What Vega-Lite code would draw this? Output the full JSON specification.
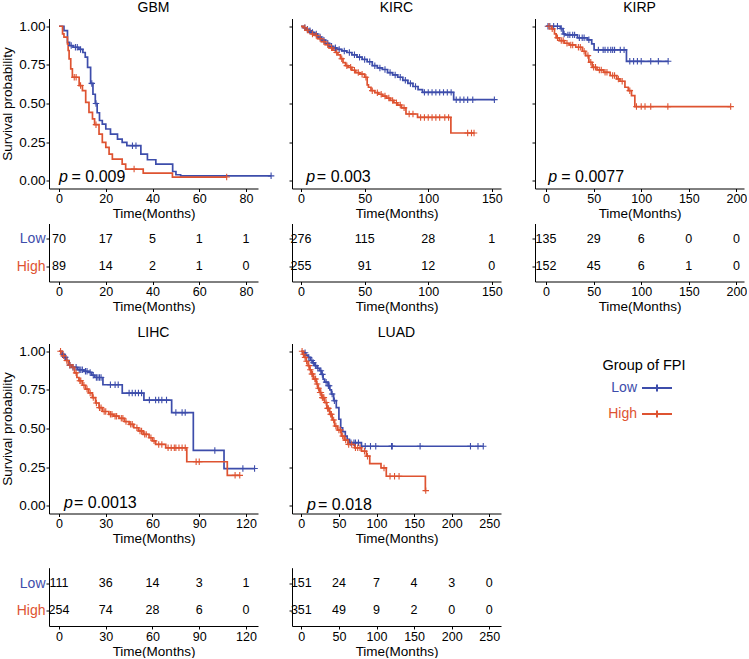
{
"$schema":"https://vega.github.io/schema/vega-lite/v6.json",
"padding":{"left":0,"top":0.5,"right":0,"bottom":0},
"background":"white",
"config":{
 "font":"Liberation Sans",
 "view":{"stroke":null},
 "axis":{"domainColor":"black","tickColor":"black","labelColor":"black","titleColor":"black","labelFontSize":12.5,"titleFontSize":13.5,"titleFontWeight":"normal","grid":false,"tickSize":3,"labelPadding":1,"domainWidth":1,"tickWidth":1},
 "axisX":{"titlePadding":1.5},
 "axisY":{"titlePadding":4,"labelFontSize":13.5},
 "title":{"fontSize":14,"fontWeight":"normal","anchor":"middle","offset":4,"color":"black"},
 "text":{"color":"black"}
},
"datasets":{
"km":[
{"panel":"GBM","group":"Low","time":0,"surv":1,"cens":0},
{"panel":"GBM","group":"Low","time":2.1,"surv":0.972,"cens":0},
{"panel":"GBM","group":"Low","time":3.6,"surv":0.896,"cens":0},
{"panel":"GBM","group":"Low","time":4.5,"surv":0.875,"cens":0},
{"panel":"GBM","group":"Low","time":5.2,"surv":0.875,"cens":1},
{"panel":"GBM","group":"Low","time":6,"surv":0.864,"cens":0},
{"panel":"GBM","group":"Low","time":7,"surv":0.864,"cens":1},
{"panel":"GBM","group":"Low","time":7.8,"surv":0.864,"cens":1},
{"panel":"GBM","group":"Low","time":8.5,"surv":0.85,"cens":0},
{"panel":"GBM","group":"Low","time":9.2,"surv":0.85,"cens":1},
{"panel":"GBM","group":"Low","time":10.2,"surv":0.83,"cens":0},
{"panel":"GBM","group":"Low","time":11.2,"surv":0.8,"cens":0},
{"panel":"GBM","group":"Low","time":12.2,"surv":0.734,"cens":0},
{"panel":"GBM","group":"Low","time":13.5,"surv":0.63,"cens":0},
{"panel":"GBM","group":"Low","time":14,"surv":0.63,"cens":1},
{"panel":"GBM","group":"Low","time":14.5,"surv":0.56,"cens":0},
{"panel":"GBM","group":"Low","time":15.5,"surv":0.5,"cens":0},
{"panel":"GBM","group":"Low","time":15.8,"surv":0.5,"cens":1},
{"panel":"GBM","group":"Low","time":16.3,"surv":0.44,"cens":0},
{"panel":"GBM","group":"Low","time":17.3,"surv":0.39,"cens":0},
{"panel":"GBM","group":"Low","time":18.5,"surv":0.367,"cens":0},
{"panel":"GBM","group":"Low","time":20,"surv":0.335,"cens":0},
{"panel":"GBM","group":"Low","time":22,"surv":0.302,"cens":0},
{"panel":"GBM","group":"Low","time":25,"surv":0.27,"cens":0},
{"panel":"GBM","group":"Low","time":27,"surv":0.248,"cens":0},
{"panel":"GBM","group":"Low","time":29,"surv":0.227,"cens":0},
{"panel":"GBM","group":"Low","time":31.4,"surv":0.227,"cens":1},
{"panel":"GBM","group":"Low","time":32.9,"surv":0.227,"cens":1},
{"panel":"GBM","group":"Low","time":35,"surv":0.173,"cens":0},
{"panel":"GBM","group":"Low","time":37.8,"surv":0.136,"cens":0},
{"panel":"GBM","group":"Low","time":41.4,"surv":0.108,"cens":0},
{"panel":"GBM","group":"Low","time":48.6,"surv":0.06,"cens":0},
{"panel":"GBM","group":"Low","time":50,"surv":0.039,"cens":0},
{"panel":"GBM","group":"Low","time":52,"surv":0.032,"cens":0},
{"panel":"GBM","group":"Low","time":90.7,"surv":0.032,"cens":1},
{"panel":"GBM","group":"High","time":0,"surv":1,"cens":0},
{"panel":"GBM","group":"High","time":1.5,"surv":0.95,"cens":0},
{"panel":"GBM","group":"High","time":2.1,"surv":0.929,"cens":0},
{"panel":"GBM","group":"High","time":3.6,"surv":0.886,"cens":0},
{"panel":"GBM","group":"High","time":3.9,"surv":0.843,"cens":0},
{"panel":"GBM","group":"High","time":4.3,"surv":0.789,"cens":0},
{"panel":"GBM","group":"High","time":5,"surv":0.724,"cens":0},
{"panel":"GBM","group":"High","time":5.7,"surv":0.67,"cens":0},
{"panel":"GBM","group":"High","time":6.5,"surv":0.67,"cens":1},
{"panel":"GBM","group":"High","time":7.3,"surv":0.67,"cens":1},
{"panel":"GBM","group":"High","time":8.6,"surv":0.616,"cens":0},
{"panel":"GBM","group":"High","time":9.2,"surv":0.616,"cens":1},
{"panel":"GBM","group":"High","time":10,"surv":0.583,"cens":0},
{"panel":"GBM","group":"High","time":11.4,"surv":0.507,"cens":0},
{"panel":"GBM","group":"High","time":12.8,"surv":0.443,"cens":0},
{"panel":"GBM","group":"High","time":14.3,"surv":0.4,"cens":0},
{"panel":"GBM","group":"High","time":15.2,"surv":0.363,"cens":0},
{"panel":"GBM","group":"High","time":15.8,"surv":0.363,"cens":1},
{"panel":"GBM","group":"High","time":17.1,"surv":0.302,"cens":0},
{"panel":"GBM","group":"High","time":18.5,"surv":0.248,"cens":0},
{"panel":"GBM","group":"High","time":20,"surv":0.216,"cens":0},
{"panel":"GBM","group":"High","time":21.4,"surv":0.173,"cens":0},
{"panel":"GBM","group":"High","time":22.8,"surv":0.14,"cens":0},
{"panel":"GBM","group":"High","time":27,"surv":0.108,"cens":0},
{"panel":"GBM","group":"High","time":28.5,"surv":0.076,"cens":0},
{"panel":"GBM","group":"High","time":32.1,"surv":0.076,"cens":1},
{"panel":"GBM","group":"High","time":36,"surv":0.05,"cens":0},
{"panel":"GBM","group":"High","time":48.5,"surv":0.024,"cens":0},
{"panel":"GBM","group":"High","time":71.7,"surv":0.024,"cens":1},
{"panel":"KIRC","group":"Low","time":0,"surv":1,"cens":0},
{"panel":"KIRC","group":"Low","time":2,"surv":0.99,"cens":0},
{"panel":"KIRC","group":"Low","time":3,"surv":0.99,"cens":1},
{"panel":"KIRC","group":"Low","time":4,"surv":0.98,"cens":0},
{"panel":"KIRC","group":"Low","time":5,"surv":0.98,"cens":1},
{"panel":"KIRC","group":"Low","time":6,"surv":0.97,"cens":0},
{"panel":"KIRC","group":"Low","time":7,"surv":0.97,"cens":1},
{"panel":"KIRC","group":"Low","time":8,"surv":0.96,"cens":0},
{"panel":"KIRC","group":"Low","time":9,"surv":0.96,"cens":1},
{"panel":"KIRC","group":"Low","time":10,"surv":0.95,"cens":0},
{"panel":"KIRC","group":"Low","time":12,"surv":0.95,"cens":1},
{"panel":"KIRC","group":"Low","time":13,"surv":0.93,"cens":0},
{"panel":"KIRC","group":"Low","time":15,"surv":0.93,"cens":1},
{"panel":"KIRC","group":"Low","time":16,"surv":0.91,"cens":0},
{"panel":"KIRC","group":"Low","time":18,"surv":0.91,"cens":1},
{"panel":"KIRC","group":"Low","time":19,"surv":0.89,"cens":0},
{"panel":"KIRC","group":"Low","time":21,"surv":0.89,"cens":1},
{"panel":"KIRC","group":"Low","time":22,"surv":0.87,"cens":0},
{"panel":"KIRC","group":"Low","time":24,"surv":0.87,"cens":1},
{"panel":"KIRC","group":"Low","time":25,"surv":0.86,"cens":0},
{"panel":"KIRC","group":"Low","time":27,"surv":0.86,"cens":1},
{"panel":"KIRC","group":"Low","time":28,"surv":0.85,"cens":0},
{"panel":"KIRC","group":"Low","time":30,"surv":0.85,"cens":1},
{"panel":"KIRC","group":"Low","time":32,"surv":0.84,"cens":0},
{"panel":"KIRC","group":"Low","time":34,"surv":0.84,"cens":1},
{"panel":"KIRC","group":"Low","time":36,"surv":0.83,"cens":0},
{"panel":"KIRC","group":"Low","time":38,"surv":0.83,"cens":1},
{"panel":"KIRC","group":"Low","time":40,"surv":0.815,"cens":0},
{"panel":"KIRC","group":"Low","time":42,"surv":0.815,"cens":1},
{"panel":"KIRC","group":"Low","time":44,"surv":0.8,"cens":0},
{"panel":"KIRC","group":"Low","time":46,"surv":0.8,"cens":1},
{"panel":"KIRC","group":"Low","time":48,"surv":0.785,"cens":0},
{"panel":"KIRC","group":"Low","time":50,"surv":0.785,"cens":1},
{"panel":"KIRC","group":"Low","time":52,"surv":0.77,"cens":0},
{"panel":"KIRC","group":"Low","time":54,"surv":0.77,"cens":1},
{"panel":"KIRC","group":"Low","time":56,"surv":0.745,"cens":0},
{"panel":"KIRC","group":"Low","time":58,"surv":0.745,"cens":1},
{"panel":"KIRC","group":"Low","time":60,"surv":0.73,"cens":0},
{"panel":"KIRC","group":"Low","time":62,"surv":0.73,"cens":1},
{"panel":"KIRC","group":"Low","time":64,"surv":0.72,"cens":0},
{"panel":"KIRC","group":"Low","time":66,"surv":0.72,"cens":1},
{"panel":"KIRC","group":"Low","time":68,"surv":0.7,"cens":0},
{"panel":"KIRC","group":"Low","time":70,"surv":0.7,"cens":1},
{"panel":"KIRC","group":"Low","time":72,"surv":0.685,"cens":0},
{"panel":"KIRC","group":"Low","time":74,"surv":0.685,"cens":1},
{"panel":"KIRC","group":"Low","time":76,"surv":0.67,"cens":0},
{"panel":"KIRC","group":"Low","time":78,"surv":0.67,"cens":1},
{"panel":"KIRC","group":"Low","time":80,"surv":0.65,"cens":0},
{"panel":"KIRC","group":"Low","time":82,"surv":0.65,"cens":1},
{"panel":"KIRC","group":"Low","time":84,"surv":0.63,"cens":0},
{"panel":"KIRC","group":"Low","time":86,"surv":0.63,"cens":1},
{"panel":"KIRC","group":"Low","time":88,"surv":0.61,"cens":0},
{"panel":"KIRC","group":"Low","time":90,"surv":0.61,"cens":1},
{"panel":"KIRC","group":"Low","time":92,"surv":0.59,"cens":0},
{"panel":"KIRC","group":"Low","time":95.5,"surv":0.572,"cens":0},
{"panel":"KIRC","group":"Low","time":97,"surv":0.572,"cens":1},
{"panel":"KIRC","group":"Low","time":100,"surv":0.572,"cens":1},
{"panel":"KIRC","group":"Low","time":103,"surv":0.572,"cens":1},
{"panel":"KIRC","group":"Low","time":106,"surv":0.572,"cens":1},
{"panel":"KIRC","group":"Low","time":109,"surv":0.572,"cens":1},
{"panel":"KIRC","group":"Low","time":112,"surv":0.572,"cens":1},
{"panel":"KIRC","group":"Low","time":115,"surv":0.572,"cens":1},
{"panel":"KIRC","group":"Low","time":118,"surv":0.572,"cens":1},
{"panel":"KIRC","group":"Low","time":120,"surv":0.525,"cens":0},
{"panel":"KIRC","group":"Low","time":122,"surv":0.525,"cens":1},
{"panel":"KIRC","group":"Low","time":125,"surv":0.525,"cens":1},
{"panel":"KIRC","group":"Low","time":128,"surv":0.525,"cens":1},
{"panel":"KIRC","group":"Low","time":131,"surv":0.525,"cens":1},
{"panel":"KIRC","group":"Low","time":135,"surv":0.525,"cens":1},
{"panel":"KIRC","group":"Low","time":152,"surv":0.525,"cens":1},
{"panel":"KIRC","group":"High","time":0,"surv":1,"cens":0},
{"panel":"KIRC","group":"High","time":2,"surv":0.99,"cens":0},
{"panel":"KIRC","group":"High","time":3,"surv":0.99,"cens":1},
{"panel":"KIRC","group":"High","time":4,"surv":0.975,"cens":0},
{"panel":"KIRC","group":"High","time":5,"surv":0.975,"cens":1},
{"panel":"KIRC","group":"High","time":6,"surv":0.96,"cens":0},
{"panel":"KIRC","group":"High","time":8,"surv":0.95,"cens":0},
{"panel":"KIRC","group":"High","time":9,"surv":0.95,"cens":1},
{"panel":"KIRC","group":"High","time":10.7,"surv":0.94,"cens":0},
{"panel":"KIRC","group":"High","time":12,"surv":0.94,"cens":1},
{"panel":"KIRC","group":"High","time":13,"surv":0.92,"cens":0},
{"panel":"KIRC","group":"High","time":15,"surv":0.92,"cens":1},
{"panel":"KIRC","group":"High","time":16,"surv":0.9,"cens":0},
{"panel":"KIRC","group":"High","time":18,"surv":0.9,"cens":1},
{"panel":"KIRC","group":"High","time":19,"surv":0.88,"cens":0},
{"panel":"KIRC","group":"High","time":21,"surv":0.88,"cens":1},
{"panel":"KIRC","group":"High","time":22,"surv":0.86,"cens":0},
{"panel":"KIRC","group":"High","time":24,"surv":0.86,"cens":1},
{"panel":"KIRC","group":"High","time":25,"surv":0.845,"cens":0},
{"panel":"KIRC","group":"High","time":27,"surv":0.83,"cens":0},
{"panel":"KIRC","group":"High","time":28,"surv":0.83,"cens":1},
{"panel":"KIRC","group":"High","time":29,"surv":0.815,"cens":0},
{"panel":"KIRC","group":"High","time":31,"surv":0.79,"cens":0},
{"panel":"KIRC","group":"High","time":32,"surv":0.79,"cens":1},
{"panel":"KIRC","group":"High","time":33,"surv":0.765,"cens":0},
{"panel":"KIRC","group":"High","time":35,"surv":0.745,"cens":0},
{"panel":"KIRC","group":"High","time":36,"surv":0.745,"cens":1},
{"panel":"KIRC","group":"High","time":37,"surv":0.734,"cens":0},
{"panel":"KIRC","group":"High","time":39,"surv":0.734,"cens":1},
{"panel":"KIRC","group":"High","time":40,"surv":0.715,"cens":0},
{"panel":"KIRC","group":"High","time":42,"surv":0.715,"cens":1},
{"panel":"KIRC","group":"High","time":43,"surv":0.7,"cens":0},
{"panel":"KIRC","group":"High","time":45,"surv":0.7,"cens":1},
{"panel":"KIRC","group":"High","time":46,"surv":0.69,"cens":0},
{"panel":"KIRC","group":"High","time":48,"surv":0.69,"cens":1},
{"panel":"KIRC","group":"High","time":50,"surv":0.67,"cens":0},
{"panel":"KIRC","group":"High","time":51,"surv":0.67,"cens":1},
{"panel":"KIRC","group":"High","time":52,"surv":0.62,"cens":0},
{"panel":"KIRC","group":"High","time":53,"surv":0.605,"cens":0},
{"panel":"KIRC","group":"High","time":55,"surv":0.583,"cens":0},
{"panel":"KIRC","group":"High","time":56,"surv":0.583,"cens":1},
{"panel":"KIRC","group":"High","time":58,"surv":0.57,"cens":0},
{"panel":"KIRC","group":"High","time":60,"surv":0.57,"cens":1},
{"panel":"KIRC","group":"High","time":61,"surv":0.56,"cens":0},
{"panel":"KIRC","group":"High","time":63,"surv":0.56,"cens":1},
{"panel":"KIRC","group":"High","time":64,"surv":0.548,"cens":0},
{"panel":"KIRC","group":"High","time":66,"surv":0.548,"cens":1},
{"panel":"KIRC","group":"High","time":67,"surv":0.535,"cens":0},
{"panel":"KIRC","group":"High","time":69,"surv":0.535,"cens":1},
{"panel":"KIRC","group":"High","time":70,"surv":0.52,"cens":0},
{"panel":"KIRC","group":"High","time":72,"surv":0.52,"cens":1},
{"panel":"KIRC","group":"High","time":73,"surv":0.505,"cens":0},
{"panel":"KIRC","group":"High","time":75,"surv":0.505,"cens":1},
{"panel":"KIRC","group":"High","time":76,"surv":0.49,"cens":0},
{"panel":"KIRC","group":"High","time":78,"surv":0.49,"cens":1},
{"panel":"KIRC","group":"High","time":79,"surv":0.472,"cens":0},
{"panel":"KIRC","group":"High","time":81,"surv":0.472,"cens":1},
{"panel":"KIRC","group":"High","time":82.5,"surv":0.432,"cens":0},
{"panel":"KIRC","group":"High","time":85,"surv":0.432,"cens":1},
{"panel":"KIRC","group":"High","time":88,"surv":0.432,"cens":1},
{"panel":"KIRC","group":"High","time":91.6,"surv":0.41,"cens":0},
{"panel":"KIRC","group":"High","time":94,"surv":0.41,"cens":1},
{"panel":"KIRC","group":"High","time":97,"surv":0.41,"cens":1},
{"panel":"KIRC","group":"High","time":100,"surv":0.41,"cens":1},
{"panel":"KIRC","group":"High","time":103,"surv":0.41,"cens":1},
{"panel":"KIRC","group":"High","time":106,"surv":0.41,"cens":1},
{"panel":"KIRC","group":"High","time":109,"surv":0.41,"cens":1},
{"panel":"KIRC","group":"High","time":113,"surv":0.41,"cens":1},
{"panel":"KIRC","group":"High","time":116,"surv":0.41,"cens":1},
{"panel":"KIRC","group":"High","time":117.8,"surv":0.309,"cens":0},
{"panel":"KIRC","group":"High","time":131,"surv":0.309,"cens":1},
{"panel":"KIRC","group":"High","time":134,"surv":0.309,"cens":1},
{"panel":"KIRC","group":"High","time":136,"surv":0.309,"cens":1},
{"panel":"KIRP","group":"Low","time":0,"surv":1,"cens":0},
{"panel":"KIRP","group":"Low","time":2,"surv":1,"cens":1},
{"panel":"KIRP","group":"Low","time":4,"surv":1,"cens":1},
{"panel":"KIRP","group":"Low","time":8,"surv":1,"cens":1},
{"panel":"KIRP","group":"Low","time":12,"surv":1,"cens":1},
{"panel":"KIRP","group":"Low","time":15,"surv":0.985,"cens":0},
{"panel":"KIRP","group":"Low","time":16,"surv":0.985,"cens":1},
{"panel":"KIRP","group":"Low","time":17.9,"surv":0.95,"cens":0},
{"panel":"KIRP","group":"Low","time":19,"surv":0.95,"cens":1},
{"panel":"KIRP","group":"Low","time":20,"surv":0.944,"cens":0},
{"panel":"KIRP","group":"Low","time":23,"surv":0.944,"cens":1},
{"panel":"KIRP","group":"Low","time":25,"surv":0.944,"cens":1},
{"panel":"KIRP","group":"Low","time":28,"surv":0.944,"cens":1},
{"panel":"KIRP","group":"Low","time":30,"surv":0.944,"cens":1},
{"panel":"KIRP","group":"Low","time":33,"surv":0.925,"cens":0},
{"panel":"KIRP","group":"Low","time":35,"surv":0.925,"cens":1},
{"panel":"KIRP","group":"Low","time":38,"surv":0.925,"cens":1},
{"panel":"KIRP","group":"Low","time":40,"surv":0.925,"cens":1},
{"panel":"KIRP","group":"Low","time":43.7,"surv":0.912,"cens":0},
{"panel":"KIRP","group":"Low","time":45,"surv":0.912,"cens":1},
{"panel":"KIRP","group":"Low","time":48,"surv":0.886,"cens":0},
{"panel":"KIRP","group":"Low","time":50.5,"surv":0.847,"cens":0},
{"panel":"KIRP","group":"Low","time":55,"surv":0.847,"cens":1},
{"panel":"KIRP","group":"Low","time":60,"surv":0.847,"cens":1},
{"panel":"KIRP","group":"Low","time":62,"surv":0.847,"cens":1},
{"panel":"KIRP","group":"Low","time":65,"surv":0.847,"cens":1},
{"panel":"KIRP","group":"Low","time":68,"surv":0.847,"cens":1},
{"panel":"KIRP","group":"Low","time":70,"surv":0.847,"cens":1},
{"panel":"KIRP","group":"Low","time":72,"surv":0.847,"cens":1},
{"panel":"KIRP","group":"Low","time":78,"surv":0.847,"cens":1},
{"panel":"KIRP","group":"Low","time":82,"surv":0.847,"cens":1},
{"panel":"KIRP","group":"Low","time":84.5,"surv":0.773,"cens":0},
{"panel":"KIRP","group":"Low","time":88,"surv":0.773,"cens":1},
{"panel":"KIRP","group":"Low","time":92,"surv":0.773,"cens":1},
{"panel":"KIRP","group":"Low","time":96,"surv":0.773,"cens":1},
{"panel":"KIRP","group":"Low","time":100,"surv":0.773,"cens":1},
{"panel":"KIRP","group":"Low","time":110,"surv":0.773,"cens":1},
{"panel":"KIRP","group":"Low","time":118,"surv":0.773,"cens":1},
{"panel":"KIRP","group":"Low","time":128.3,"surv":0.773,"cens":1},
{"panel":"KIRP","group":"High","time":0,"surv":1,"cens":0},
{"panel":"KIRP","group":"High","time":3,"surv":1,"cens":1},
{"panel":"KIRP","group":"High","time":5.8,"surv":0.983,"cens":0},
{"panel":"KIRP","group":"High","time":6.5,"surv":0.983,"cens":1},
{"panel":"KIRP","group":"High","time":8.9,"surv":0.95,"cens":0},
{"panel":"KIRP","group":"High","time":10.6,"surv":0.925,"cens":0},
{"panel":"KIRP","group":"High","time":12,"surv":0.925,"cens":1},
{"panel":"KIRP","group":"High","time":14,"surv":0.907,"cens":0},
{"panel":"KIRP","group":"High","time":16,"surv":0.907,"cens":1},
{"panel":"KIRP","group":"High","time":18,"surv":0.907,"cens":1},
{"panel":"KIRP","group":"High","time":19.2,"surv":0.89,"cens":0},
{"panel":"KIRP","group":"High","time":22,"surv":0.89,"cens":1},
{"panel":"KIRP","group":"High","time":24.3,"surv":0.879,"cens":0},
{"panel":"KIRP","group":"High","time":26,"surv":0.879,"cens":1},
{"panel":"KIRP","group":"High","time":28,"surv":0.879,"cens":1},
{"panel":"KIRP","group":"High","time":31.2,"surv":0.864,"cens":0},
{"panel":"KIRP","group":"High","time":34,"surv":0.864,"cens":1},
{"panel":"KIRP","group":"High","time":36,"surv":0.864,"cens":1},
{"panel":"KIRP","group":"High","time":38.1,"surv":0.838,"cens":0},
{"panel":"KIRP","group":"High","time":40,"surv":0.838,"cens":1},
{"panel":"KIRP","group":"High","time":41.6,"surv":0.81,"cens":0},
{"panel":"KIRP","group":"High","time":44,"surv":0.81,"cens":1},
{"panel":"KIRP","group":"High","time":45,"surv":0.767,"cens":0},
{"panel":"KIRP","group":"High","time":47,"surv":0.767,"cens":1},
{"panel":"KIRP","group":"High","time":48.5,"surv":0.734,"cens":0},
{"panel":"KIRP","group":"High","time":50,"surv":0.734,"cens":1},
{"panel":"KIRP","group":"High","time":52,"surv":0.734,"cens":1},
{"panel":"KIRP","group":"High","time":53.6,"surv":0.717,"cens":0},
{"panel":"KIRP","group":"High","time":56,"surv":0.717,"cens":1},
{"panel":"KIRP","group":"High","time":58,"surv":0.717,"cens":1},
{"panel":"KIRP","group":"High","time":60.5,"surv":0.702,"cens":0},
{"panel":"KIRP","group":"High","time":62,"surv":0.702,"cens":1},
{"panel":"KIRP","group":"High","time":64,"surv":0.702,"cens":1},
{"panel":"KIRP","group":"High","time":67.4,"surv":0.681,"cens":0},
{"panel":"KIRP","group":"High","time":70,"surv":0.681,"cens":1},
{"panel":"KIRP","group":"High","time":72,"surv":0.681,"cens":1},
{"panel":"KIRP","group":"High","time":74.3,"surv":0.659,"cens":0},
{"panel":"KIRP","group":"High","time":76,"surv":0.659,"cens":1},
{"panel":"KIRP","group":"High","time":77.7,"surv":0.644,"cens":0},
{"panel":"KIRP","group":"High","time":80,"surv":0.644,"cens":1},
{"panel":"KIRP","group":"High","time":82.9,"surv":0.605,"cens":0},
{"panel":"KIRP","group":"High","time":86.4,"surv":0.583,"cens":0},
{"panel":"KIRP","group":"High","time":88,"surv":0.583,"cens":1},
{"panel":"KIRP","group":"High","time":89.8,"surv":0.551,"cens":0},
{"panel":"KIRP","group":"High","time":93.3,"surv":0.48,"cens":0},
{"panel":"KIRP","group":"High","time":95,"surv":0.48,"cens":1},
{"panel":"KIRP","group":"High","time":100,"surv":0.48,"cens":1},
{"panel":"KIRP","group":"High","time":104,"surv":0.48,"cens":1},
{"panel":"KIRP","group":"High","time":110,"surv":0.48,"cens":1},
{"panel":"KIRP","group":"High","time":128,"surv":0.48,"cens":1},
{"panel":"KIRP","group":"High","time":194,"surv":0.48,"cens":1},
{"panel":"LIHC","group":"Low","time":0,"surv":1,"cens":0},
{"panel":"LIHC","group":"Low","time":2,"surv":0.98,"cens":0},
{"panel":"LIHC","group":"Low","time":2.5,"surv":0.98,"cens":1},
{"panel":"LIHC","group":"Low","time":3.5,"surv":0.96,"cens":0},
{"panel":"LIHC","group":"Low","time":4,"surv":0.96,"cens":1},
{"panel":"LIHC","group":"Low","time":5,"surv":0.94,"cens":0},
{"panel":"LIHC","group":"Low","time":6.5,"surv":0.91,"cens":0},
{"panel":"LIHC","group":"Low","time":7,"surv":0.91,"cens":1},
{"panel":"LIHC","group":"Low","time":8,"surv":0.896,"cens":0},
{"panel":"LIHC","group":"Low","time":9,"surv":0.896,"cens":1},
{"panel":"LIHC","group":"Low","time":11,"surv":0.896,"cens":1},
{"panel":"LIHC","group":"Low","time":12,"surv":0.88,"cens":0},
{"panel":"LIHC","group":"Low","time":13,"surv":0.88,"cens":1},
{"panel":"LIHC","group":"Low","time":14,"surv":0.88,"cens":1},
{"panel":"LIHC","group":"Low","time":15,"surv":0.88,"cens":1},
{"panel":"LIHC","group":"Low","time":16,"surv":0.87,"cens":0},
{"panel":"LIHC","group":"Low","time":17,"surv":0.87,"cens":1},
{"panel":"LIHC","group":"Low","time":18,"surv":0.87,"cens":1},
{"panel":"LIHC","group":"Low","time":19.3,"surv":0.863,"cens":0},
{"panel":"LIHC","group":"Low","time":20,"surv":0.863,"cens":1},
{"panel":"LIHC","group":"Low","time":21,"surv":0.845,"cens":0},
{"panel":"LIHC","group":"Low","time":22,"surv":0.845,"cens":1},
{"panel":"LIHC","group":"Low","time":23,"surv":0.83,"cens":0},
{"panel":"LIHC","group":"Low","time":24,"surv":0.83,"cens":1},
{"panel":"LIHC","group":"Low","time":25,"surv":0.83,"cens":1},
{"panel":"LIHC","group":"Low","time":26,"surv":0.83,"cens":1},
{"panel":"LIHC","group":"Low","time":27,"surv":0.83,"cens":1},
{"panel":"LIHC","group":"Low","time":28.2,"surv":0.783,"cens":0},
{"panel":"LIHC","group":"Low","time":33,"surv":0.783,"cens":1},
{"panel":"LIHC","group":"Low","time":36,"surv":0.783,"cens":1},
{"panel":"LIHC","group":"Low","time":38,"surv":0.783,"cens":1},
{"panel":"LIHC","group":"Low","time":40.6,"surv":0.729,"cens":0},
{"panel":"LIHC","group":"Low","time":45,"surv":0.729,"cens":1},
{"panel":"LIHC","group":"Low","time":47,"surv":0.729,"cens":1},
{"panel":"LIHC","group":"Low","time":49,"surv":0.729,"cens":1},
{"panel":"LIHC","group":"Low","time":51,"surv":0.729,"cens":1},
{"panel":"LIHC","group":"Low","time":53,"surv":0.729,"cens":1},
{"panel":"LIHC","group":"Low","time":54.5,"surv":0.684,"cens":0},
{"panel":"LIHC","group":"Low","time":58,"surv":0.684,"cens":1},
{"panel":"LIHC","group":"Low","time":62,"surv":0.684,"cens":1},
{"panel":"LIHC","group":"Low","time":64,"surv":0.684,"cens":1},
{"panel":"LIHC","group":"Low","time":66,"surv":0.684,"cens":1},
{"panel":"LIHC","group":"Low","time":69,"surv":0.684,"cens":1},
{"panel":"LIHC","group":"Low","time":72.3,"surv":0.603,"cens":0},
{"panel":"LIHC","group":"Low","time":75,"surv":0.603,"cens":1},
{"panel":"LIHC","group":"Low","time":79,"surv":0.603,"cens":1},
{"panel":"LIHC","group":"Low","time":81,"surv":0.603,"cens":1},
{"panel":"LIHC","group":"Low","time":86.2,"surv":0.358,"cens":0},
{"panel":"LIHC","group":"Low","time":100,"surv":0.358,"cens":1},
{"panel":"LIHC","group":"Low","time":105.9,"surv":0.241,"cens":0},
{"panel":"LIHC","group":"Low","time":118,"surv":0.241,"cens":1},
{"panel":"LIHC","group":"Low","time":125.5,"surv":0.241,"cens":1},
{"panel":"LIHC","group":"High","time":0,"surv":1,"cens":0},
{"panel":"LIHC","group":"High","time":1,"surv":1,"cens":1},
{"panel":"LIHC","group":"High","time":2,"surv":0.97,"cens":0},
{"panel":"LIHC","group":"High","time":3,"surv":0.97,"cens":1},
{"panel":"LIHC","group":"High","time":4,"surv":0.94,"cens":0},
{"panel":"LIHC","group":"High","time":5,"surv":0.94,"cens":1},
{"panel":"LIHC","group":"High","time":6,"surv":0.91,"cens":0},
{"panel":"LIHC","group":"High","time":7,"surv":0.91,"cens":1},
{"panel":"LIHC","group":"High","time":8.5,"surv":0.896,"cens":0},
{"panel":"LIHC","group":"High","time":9,"surv":0.896,"cens":1},
{"panel":"LIHC","group":"High","time":10,"surv":0.86,"cens":0},
{"panel":"LIHC","group":"High","time":11,"surv":0.86,"cens":1},
{"panel":"LIHC","group":"High","time":11.5,"surv":0.83,"cens":0},
{"panel":"LIHC","group":"High","time":12.8,"surv":0.809,"cens":0},
{"panel":"LIHC","group":"High","time":13.4,"surv":0.809,"cens":1},
{"panel":"LIHC","group":"High","time":14,"surv":0.809,"cens":1},
{"panel":"LIHC","group":"High","time":15,"surv":0.78,"cens":0},
{"panel":"LIHC","group":"High","time":16,"surv":0.78,"cens":1},
{"panel":"LIHC","group":"High","time":17,"surv":0.755,"cens":0},
{"panel":"LIHC","group":"High","time":18,"surv":0.755,"cens":1},
{"panel":"LIHC","group":"High","time":19,"surv":0.73,"cens":0},
{"panel":"LIHC","group":"High","time":20,"surv":0.73,"cens":1},
{"panel":"LIHC","group":"High","time":21.4,"surv":0.7,"cens":0},
{"panel":"LIHC","group":"High","time":22,"surv":0.7,"cens":1},
{"panel":"LIHC","group":"High","time":23.5,"surv":0.665,"cens":0},
{"panel":"LIHC","group":"High","time":24,"surv":0.665,"cens":1},
{"panel":"LIHC","group":"High","time":25.7,"surv":0.635,"cens":0},
{"panel":"LIHC","group":"High","time":26,"surv":0.635,"cens":1},
{"panel":"LIHC","group":"High","time":27,"surv":0.635,"cens":1},
{"panel":"LIHC","group":"High","time":28,"surv":0.61,"cens":0},
{"panel":"LIHC","group":"High","time":29,"surv":0.61,"cens":1},
{"panel":"LIHC","group":"High","time":30,"surv":0.61,"cens":1},
{"panel":"LIHC","group":"High","time":32,"surv":0.592,"cens":0},
{"panel":"LIHC","group":"High","time":33,"surv":0.592,"cens":1},
{"panel":"LIHC","group":"High","time":34,"surv":0.592,"cens":1},
{"panel":"LIHC","group":"High","time":35,"surv":0.58,"cens":0},
{"panel":"LIHC","group":"High","time":36,"surv":0.58,"cens":1},
{"panel":"LIHC","group":"High","time":37,"surv":0.58,"cens":1},
{"panel":"LIHC","group":"High","time":38.5,"surv":0.566,"cens":0},
{"panel":"LIHC","group":"High","time":40,"surv":0.566,"cens":1},
{"panel":"LIHC","group":"High","time":41,"surv":0.566,"cens":1},
{"panel":"LIHC","group":"High","time":42,"surv":0.545,"cens":0},
{"panel":"LIHC","group":"High","time":43,"surv":0.545,"cens":1},
{"panel":"LIHC","group":"High","time":45,"surv":0.527,"cens":0},
{"panel":"LIHC","group":"High","time":46,"surv":0.527,"cens":1},
{"panel":"LIHC","group":"High","time":47,"surv":0.527,"cens":1},
{"panel":"LIHC","group":"High","time":48,"surv":0.505,"cens":0},
{"panel":"LIHC","group":"High","time":50,"surv":0.505,"cens":1},
{"panel":"LIHC","group":"High","time":51,"surv":0.484,"cens":0},
{"panel":"LIHC","group":"High","time":52,"surv":0.484,"cens":1},
{"panel":"LIHC","group":"High","time":53,"surv":0.484,"cens":1},
{"panel":"LIHC","group":"High","time":54,"surv":0.462,"cens":0},
{"panel":"LIHC","group":"High","time":55,"surv":0.462,"cens":1},
{"panel":"LIHC","group":"High","time":56,"surv":0.462,"cens":1},
{"panel":"LIHC","group":"High","time":57.8,"surv":0.44,"cens":0},
{"panel":"LIHC","group":"High","time":59,"surv":0.44,"cens":1},
{"panel":"LIHC","group":"High","time":60,"surv":0.42,"cens":0},
{"panel":"LIHC","group":"High","time":61,"surv":0.42,"cens":1},
{"panel":"LIHC","group":"High","time":62,"surv":0.397,"cens":0},
{"panel":"LIHC","group":"High","time":64,"surv":0.397,"cens":1},
{"panel":"LIHC","group":"High","time":66,"surv":0.397,"cens":1},
{"panel":"LIHC","group":"High","time":68.5,"surv":0.375,"cens":0},
{"panel":"LIHC","group":"High","time":70,"surv":0.375,"cens":1},
{"panel":"LIHC","group":"High","time":72,"surv":0.375,"cens":1},
{"panel":"LIHC","group":"High","time":74,"surv":0.375,"cens":1},
{"panel":"LIHC","group":"High","time":75,"surv":0.375,"cens":1},
{"panel":"LIHC","group":"High","time":77,"surv":0.375,"cens":1},
{"panel":"LIHC","group":"High","time":79,"surv":0.375,"cens":1},
{"panel":"LIHC","group":"High","time":81,"surv":0.375,"cens":1},
{"panel":"LIHC","group":"High","time":82,"surv":0.285,"cens":0},
{"panel":"LIHC","group":"High","time":88,"surv":0.285,"cens":1},
{"panel":"LIHC","group":"High","time":90,"surv":0.285,"cens":1},
{"panel":"LIHC","group":"High","time":108,"surv":0.197,"cens":0},
{"panel":"LIHC","group":"High","time":113,"surv":0.197,"cens":1},
{"panel":"LIHC","group":"High","time":116,"surv":0.197,"cens":1},
{"panel":"LUAD","group":"Low","time":0,"surv":1,"cens":0},
{"panel":"LUAD","group":"Low","time":3,"surv":0.99,"cens":0},
{"panel":"LUAD","group":"Low","time":5,"surv":0.99,"cens":1},
{"panel":"LUAD","group":"Low","time":6,"surv":0.975,"cens":0},
{"panel":"LUAD","group":"Low","time":8.9,"surv":0.96,"cens":0},
{"panel":"LUAD","group":"Low","time":10,"surv":0.96,"cens":1},
{"panel":"LUAD","group":"Low","time":12,"surv":0.94,"cens":0},
{"panel":"LUAD","group":"Low","time":14,"surv":0.94,"cens":1},
{"panel":"LUAD","group":"Low","time":15,"surv":0.925,"cens":0},
{"panel":"LUAD","group":"Low","time":16,"surv":0.925,"cens":1},
{"panel":"LUAD","group":"Low","time":17.8,"surv":0.907,"cens":0},
{"panel":"LUAD","group":"Low","time":19,"surv":0.907,"cens":1},
{"panel":"LUAD","group":"Low","time":21,"surv":0.89,"cens":0},
{"panel":"LUAD","group":"Low","time":22,"surv":0.89,"cens":1},
{"panel":"LUAD","group":"Low","time":24.4,"surv":0.874,"cens":0},
{"panel":"LUAD","group":"Low","time":26,"surv":0.874,"cens":1},
{"panel":"LUAD","group":"Low","time":27,"surv":0.85,"cens":0},
{"panel":"LUAD","group":"Low","time":28,"surv":0.85,"cens":1},
{"panel":"LUAD","group":"Low","time":29,"surv":0.82,"cens":0},
{"panel":"LUAD","group":"Low","time":31,"surv":0.8,"cens":0},
{"panel":"LUAD","group":"Low","time":33,"surv":0.8,"cens":1},
{"panel":"LUAD","group":"Low","time":35.5,"surv":0.777,"cens":0},
{"panel":"LUAD","group":"Low","time":36,"surv":0.777,"cens":1},
{"panel":"LUAD","group":"Low","time":37,"surv":0.777,"cens":1},
{"panel":"LUAD","group":"Low","time":38,"surv":0.75,"cens":0},
{"panel":"LUAD","group":"Low","time":40,"surv":0.723,"cens":0},
{"panel":"LUAD","group":"Low","time":41,"surv":0.723,"cens":1},
{"panel":"LUAD","group":"Low","time":43,"surv":0.68,"cens":0},
{"panel":"LUAD","group":"Low","time":44,"surv":0.68,"cens":1},
{"panel":"LUAD","group":"Low","time":46.5,"surv":0.635,"cens":0},
{"panel":"LUAD","group":"Low","time":50,"surv":0.56,"cens":0},
{"panel":"LUAD","group":"Low","time":52.4,"surv":0.505,"cens":0},
{"panel":"LUAD","group":"Low","time":55,"surv":0.48,"cens":0},
{"panel":"LUAD","group":"Low","time":58.5,"surv":0.451,"cens":0},
{"panel":"LUAD","group":"Low","time":61,"surv":0.43,"cens":0},
{"panel":"LUAD","group":"Low","time":64,"surv":0.408,"cens":0},
{"panel":"LUAD","group":"Low","time":66,"surv":0.408,"cens":1},
{"panel":"LUAD","group":"Low","time":70,"surv":0.408,"cens":1},
{"panel":"LUAD","group":"Low","time":72,"surv":0.408,"cens":1},
{"panel":"LUAD","group":"Low","time":76,"surv":0.408,"cens":1},
{"panel":"LUAD","group":"Low","time":80,"surv":0.385,"cens":0},
{"panel":"LUAD","group":"Low","time":85,"surv":0.385,"cens":1},
{"panel":"LUAD","group":"Low","time":92,"surv":0.385,"cens":1},
{"panel":"LUAD","group":"Low","time":99,"surv":0.385,"cens":1},
{"panel":"LUAD","group":"Low","time":120,"surv":0.385,"cens":1},
{"panel":"LUAD","group":"Low","time":121,"surv":0.385,"cens":1},
{"panel":"LUAD","group":"Low","time":158,"surv":0.385,"cens":1},
{"panel":"LUAD","group":"Low","time":225,"surv":0.385,"cens":1},
{"panel":"LUAD","group":"Low","time":235,"surv":0.385,"cens":1},
{"panel":"LUAD","group":"Low","time":242,"surv":0.385,"cens":1},
{"panel":"LUAD","group":"High","time":0,"surv":1,"cens":0},
{"panel":"LUAD","group":"High","time":1,"surv":1,"cens":1},
{"panel":"LUAD","group":"High","time":2,"surv":0.98,"cens":0},
{"panel":"LUAD","group":"High","time":3,"surv":0.98,"cens":1},
{"panel":"LUAD","group":"High","time":4.4,"surv":0.96,"cens":0},
{"panel":"LUAD","group":"High","time":5,"surv":0.96,"cens":1},
{"panel":"LUAD","group":"High","time":6.5,"surv":0.935,"cens":0},
{"panel":"LUAD","group":"High","time":7,"surv":0.935,"cens":1},
{"panel":"LUAD","group":"High","time":8.9,"surv":0.907,"cens":0},
{"panel":"LUAD","group":"High","time":10,"surv":0.907,"cens":1},
{"panel":"LUAD","group":"High","time":11,"surv":0.88,"cens":0},
{"panel":"LUAD","group":"High","time":12,"surv":0.88,"cens":1},
{"panel":"LUAD","group":"High","time":13.3,"surv":0.853,"cens":0},
{"panel":"LUAD","group":"High","time":14,"surv":0.853,"cens":1},
{"panel":"LUAD","group":"High","time":15,"surv":0.853,"cens":1},
{"panel":"LUAD","group":"High","time":16,"surv":0.82,"cens":0},
{"panel":"LUAD","group":"High","time":18,"surv":0.82,"cens":1},
{"panel":"LUAD","group":"High","time":19,"surv":0.82,"cens":1},
{"panel":"LUAD","group":"High","time":20,"surv":0.788,"cens":0},
{"panel":"LUAD","group":"High","time":21,"surv":0.788,"cens":1},
{"panel":"LUAD","group":"High","time":22,"surv":0.76,"cens":0},
{"panel":"LUAD","group":"High","time":23,"surv":0.76,"cens":1},
{"panel":"LUAD","group":"High","time":24.4,"surv":0.733,"cens":0},
{"panel":"LUAD","group":"High","time":25,"surv":0.733,"cens":1},
{"panel":"LUAD","group":"High","time":26,"surv":0.733,"cens":1},
{"panel":"LUAD","group":"High","time":27,"surv":0.7,"cens":0},
{"panel":"LUAD","group":"High","time":28,"surv":0.7,"cens":1},
{"panel":"LUAD","group":"High","time":29,"surv":0.7,"cens":1},
{"panel":"LUAD","group":"High","time":30,"surv":0.7,"cens":1},
{"panel":"LUAD","group":"High","time":31,"surv":0.668,"cens":0},
{"panel":"LUAD","group":"High","time":33,"surv":0.668,"cens":1},
{"panel":"LUAD","group":"High","time":34,"surv":0.63,"cens":0},
{"panel":"LUAD","group":"High","time":35,"surv":0.63,"cens":1},
{"panel":"LUAD","group":"High","time":36,"surv":0.63,"cens":1},
{"panel":"LUAD","group":"High","time":37.7,"surv":0.592,"cens":0},
{"panel":"LUAD","group":"High","time":39,"surv":0.592,"cens":1},
{"panel":"LUAD","group":"High","time":40,"surv":0.592,"cens":1},
{"panel":"LUAD","group":"High","time":41,"surv":0.555,"cens":0},
{"panel":"LUAD","group":"High","time":43,"surv":0.555,"cens":1},
{"panel":"LUAD","group":"High","time":44.3,"surv":0.516,"cens":0},
{"panel":"LUAD","group":"High","time":46,"surv":0.516,"cens":1},
{"panel":"LUAD","group":"High","time":48,"surv":0.49,"cens":0},
{"panel":"LUAD","group":"High","time":50,"surv":0.49,"cens":1},
{"panel":"LUAD","group":"High","time":52,"surv":0.49,"cens":1},
{"panel":"LUAD","group":"High","time":53.2,"surv":0.451,"cens":0},
{"panel":"LUAD","group":"High","time":55,"surv":0.451,"cens":1},
{"panel":"LUAD","group":"High","time":57,"surv":0.425,"cens":0},
{"panel":"LUAD","group":"High","time":59,"surv":0.425,"cens":1},
{"panel":"LUAD","group":"High","time":62,"surv":0.397,"cens":0},
{"panel":"LUAD","group":"High","time":63,"surv":0.397,"cens":1},
{"panel":"LUAD","group":"High","time":67,"surv":0.397,"cens":1},
{"panel":"LUAD","group":"High","time":70.9,"surv":0.375,"cens":0},
{"panel":"LUAD","group":"High","time":72,"surv":0.375,"cens":1},
{"panel":"LUAD","group":"High","time":75,"surv":0.375,"cens":1},
{"panel":"LUAD","group":"High","time":78,"surv":0.375,"cens":1},
{"panel":"LUAD","group":"High","time":80,"surv":0.353,"cens":0},
{"panel":"LUAD","group":"High","time":84,"surv":0.353,"cens":1},
{"panel":"LUAD","group":"High","time":86.6,"surv":0.321,"cens":0},
{"panel":"LUAD","group":"High","time":88,"surv":0.321,"cens":1},
{"panel":"LUAD","group":"High","time":91,"surv":0.273,"cens":0},
{"panel":"LUAD","group":"High","time":106,"surv":0.245,"cens":0},
{"panel":"LUAD","group":"High","time":110,"surv":0.245,"cens":1},
{"panel":"LUAD","group":"High","time":113,"surv":0.191,"cens":0},
{"panel":"LUAD","group":"High","time":118,"surv":0.191,"cens":1},
{"panel":"LUAD","group":"High","time":124,"surv":0.191,"cens":1},
{"panel":"LUAD","group":"High","time":130,"surv":0.191,"cens":1},
{"panel":"LUAD","group":"High","time":165,"surv":0.098,"cens":0},
{"panel":"LUAD","group":"High","time":165.5,"surv":0.098,"cens":1}
],
"risk":[
{"panel":"GBM","group":"Low","time":0,"n":70},{"panel":"GBM","group":"Low","time":20,"n":17},{"panel":"GBM","group":"Low","time":40,"n":5},{"panel":"GBM","group":"Low","time":60,"n":1},{"panel":"GBM","group":"Low","time":80,"n":1},
{"panel":"GBM","group":"High","time":0,"n":89},{"panel":"GBM","group":"High","time":20,"n":14},{"panel":"GBM","group":"High","time":40,"n":2},{"panel":"GBM","group":"High","time":60,"n":1},{"panel":"GBM","group":"High","time":80,"n":0},
{"panel":"KIRC","group":"Low","time":0,"n":276},{"panel":"KIRC","group":"Low","time":50,"n":115},{"panel":"KIRC","group":"Low","time":100,"n":28},{"panel":"KIRC","group":"Low","time":150,"n":1},
{"panel":"KIRC","group":"High","time":0,"n":255},{"panel":"KIRC","group":"High","time":50,"n":91},{"panel":"KIRC","group":"High","time":100,"n":12},{"panel":"KIRC","group":"High","time":150,"n":0},
{"panel":"KIRP","group":"Low","time":0,"n":135},{"panel":"KIRP","group":"Low","time":50,"n":29},{"panel":"KIRP","group":"Low","time":100,"n":6},{"panel":"KIRP","group":"Low","time":150,"n":0},{"panel":"KIRP","group":"Low","time":200,"n":0},
{"panel":"KIRP","group":"High","time":0,"n":152},{"panel":"KIRP","group":"High","time":50,"n":45},{"panel":"KIRP","group":"High","time":100,"n":6},{"panel":"KIRP","group":"High","time":150,"n":1},{"panel":"KIRP","group":"High","time":200,"n":0},
{"panel":"LIHC","group":"Low","time":0,"n":111},{"panel":"LIHC","group":"Low","time":30,"n":36},{"panel":"LIHC","group":"Low","time":60,"n":14},{"panel":"LIHC","group":"Low","time":90,"n":3},{"panel":"LIHC","group":"Low","time":120,"n":1},
{"panel":"LIHC","group":"High","time":0,"n":254},{"panel":"LIHC","group":"High","time":30,"n":74},{"panel":"LIHC","group":"High","time":60,"n":28},{"panel":"LIHC","group":"High","time":90,"n":6},{"panel":"LIHC","group":"High","time":120,"n":0},
{"panel":"LUAD","group":"Low","time":0,"n":151},{"panel":"LUAD","group":"Low","time":50,"n":24},{"panel":"LUAD","group":"Low","time":100,"n":7},{"panel":"LUAD","group":"Low","time":150,"n":4},{"panel":"LUAD","group":"Low","time":200,"n":3},{"panel":"LUAD","group":"Low","time":250,"n":0},
{"panel":"LUAD","group":"High","time":0,"n":351},{"panel":"LUAD","group":"High","time":50,"n":49},{"panel":"LUAD","group":"High","time":100,"n":9},{"panel":"LUAD","group":"High","time":150,"n":2},{"panel":"LUAD","group":"High","time":200,"n":0},{"panel":"LUAD","group":"High","time":250,"n":0}
]
},
"columns":3,
"bounds":"flush",
"align":"each",
"spacing":{"row":35,"column":34},
"concat":[
  {"width":209,"height":170,"title":"GBM","layer":[
   {"data":{"name":"km"},"transform":[{"filter":"datum.panel==='GBM'"}],"mark":{"type":"line","interpolate":"step-after","strokeWidth":1.7},
    "encoding":{"x":{"field":"time","type":"quantitative","scale":{"domain":[-4.3,85.1],"nice":false,"zero":false},"axis":{"values":[0,20,40,60,80],"title":"Time(Months)"}},
     "y":{"field":"surv","type":"quantitative","scale":{"domain":[-0.05,1.05],"nice":false,"zero":false},"axis":{"values":[0,0.25,0.5,0.75,1],"format":".2f","title":"Survival probability"}},
     "color":{"field":"group","type":"nominal","scale":{"domain":["Low","High"],"range":["#3D4DAB","#DE5331"]},
      "legend":{"orient":"none","legendX":553,"legendY":340,"title":"Group of FPI","titleFontSize":14.5,"titleFontWeight":"normal","titleColor":"black","titleAlign":"center","titleAnchor":"start","titlePadding":2,"labelFontSize":14,"labelAlign":"right","labelOffset":-33,"labelColor":{"expr":"datum.label === 'Low' ? '#3D4DAB' : '#DE5331'"},"symbolType":"M-1.25,0H1.25M0,-0.29V0.29","symbolSize":576,"symbolStrokeWidth":2,"rowPadding":5}}}},
   {"data":{"name":"km"},"transform":[{"filter":"datum.panel==='GBM' && datum.cens===1"}],"mark":{"type":"point","shape":"M-1,0H1M0,-1V1","filled":false,"size":42,"strokeWidth":1.1,"opacity":1},
    "encoding":{"x":{"field":"time","type":"quantitative"},"y":{"field":"surv","type":"quantitative"},"color":{"field":"group","type":"nominal"}}},
   {"data":{"values":[{}]},"mark":{"type":"text","text":"p","fontStyle":"italic","fontSize":16,"align":"left","baseline":"alphabetic"},"encoding":{"x":{"datum":0,"type":"quantitative"},"y":{"datum":-0.011,"type":"quantitative"}}},
   {"data":{"values":[{}]},"mark":{"type":"text","text":"= 0.009","fontSize":16,"align":"left","baseline":"alphabetic","dx":12.5},"encoding":{"x":{"datum":0,"type":"quantitative"},"y":{"datum":-0.011,"type":"quantitative"}}}
  ]},
  {"width":209,"height":170,"title":"KIRC","layer":[
   {"data":{"name":"km"},"transform":[{"filter":"datum.panel==='KIRC'"}],"mark":{"type":"line","interpolate":"step-after","strokeWidth":1.7},
    "encoding":{"x":{"field":"time","type":"quantitative","scale":{"domain":[-7.1,157.2],"nice":false,"zero":false},"axis":{"values":[0,50,100,150],"title":"Time(Months)"}},
     "y":{"field":"surv","type":"quantitative","scale":{"domain":[-0.05,1.05],"nice":false,"zero":false},"axis":{"values":[0,0.25,0.5,0.75,1],"labels":false,"title":null}},
     "color":{"field":"group","type":"nominal"}}},
   {"data":{"name":"km"},"transform":[{"filter":"datum.panel==='KIRC' && datum.cens===1"}],"mark":{"type":"point","shape":"M-1,0H1M0,-1V1","filled":false,"size":42,"strokeWidth":1.1,"opacity":1},
    "encoding":{"x":{"field":"time","type":"quantitative"},"y":{"field":"surv","type":"quantitative"},"color":{"field":"group","type":"nominal"}}},
   {"data":{"values":[{}]},"mark":{"type":"text","text":"p","fontStyle":"italic","fontSize":16,"align":"left","baseline":"alphabetic"},"encoding":{"x":{"datum":4.2,"type":"quantitative"},"y":{"datum":-0.011,"type":"quantitative"}}},
   {"data":{"values":[{}]},"mark":{"type":"text","text":"= 0.003","fontSize":16,"align":"left","baseline":"alphabetic","dx":10.5},"encoding":{"x":{"datum":4.2,"type":"quantitative"},"y":{"datum":-0.011,"type":"quantitative"}}}
  ]},
  {"width":209,"height":170,"title":"KIRP","layer":[
   {"data":{"name":"km"},"transform":[{"filter":"datum.panel==='KIRP'"}],"mark":{"type":"line","interpolate":"step-after","strokeWidth":1.7},
    "encoding":{"x":{"field":"time","type":"quantitative","scale":{"domain":[-11.6,208],"nice":false,"zero":false},"axis":{"values":[0,50,100,150,200],"title":"Time(Months)"}},
     "y":{"field":"surv","type":"quantitative","scale":{"domain":[-0.05,1.05],"nice":false,"zero":false},"axis":{"values":[0,0.25,0.5,0.75,1],"labels":false,"title":null}},
     "color":{"field":"group","type":"nominal"}}},
   {"data":{"name":"km"},"transform":[{"filter":"datum.panel==='KIRP' && datum.cens===1"}],"mark":{"type":"point","shape":"M-1,0H1M0,-1V1","filled":false,"size":42,"strokeWidth":1.1,"opacity":1},
    "encoding":{"x":{"field":"time","type":"quantitative"},"y":{"field":"surv","type":"quantitative"},"color":{"field":"group","type":"nominal"}}},
   {"data":{"values":[{}]},"mark":{"type":"text","text":"p","fontStyle":"italic","fontSize":16,"align":"left","baseline":"alphabetic"},"encoding":{"x":{"datum":2.4,"type":"quantitative"},"y":{"datum":-0.011,"type":"quantitative"}}},
   {"data":{"values":[{}]},"mark":{"type":"text","text":"= 0.0077","fontSize":16,"align":"left","baseline":"alphabetic","dx":13},"encoding":{"x":{"datum":2.4,"type":"quantitative"},"y":{"datum":-0.011,"type":"quantitative"}}}
  ]},
  {"width":209,"height":84.5,"data":{"name":"risk"},"transform":[{"filter":"datum.panel==='GBM'"}],"mark":{"type":"text","fontSize":12.5},
   "encoding":{"x":{"field":"time","type":"quantitative","scale":{"domain":[-4.3,85.1],"nice":false,"zero":false},"axis":{"values":[0,20,40,60,80],"title":"Time(Months)","offset":-26.5}},
    "y":{"field":"group","type":"nominal","scale":{"type":"point","domain":["Low","High"],"padding":0.57,"range":[0,58]},"axis":{"title":null,"labelFontSize":14,"labelColor":{"condition":{"test":"datum.value === 'Low'","value":"#3D4DAB"},"value":"#DE5331"}}},
    "text":{"field":"n","type":"quantitative"}}},
  {"width":209,"height":84.5,"data":{"name":"risk"},"transform":[{"filter":"datum.panel==='KIRC'"}],"mark":{"type":"text","fontSize":12.5},
   "encoding":{"x":{"field":"time","type":"quantitative","scale":{"domain":[-7.1,157.2],"nice":false,"zero":false},"axis":{"values":[0,50,100,150],"title":"Time(Months)","offset":-26.5}},
    "y":{"field":"group","type":"nominal","scale":{"type":"point","domain":["Low","High"],"padding":0.57,"range":[0,58]},"axis":{"title":null,"labels":false}},
    "text":{"field":"n","type":"quantitative"}}},
  {"width":209,"height":84.5,"data":{"name":"risk"},"transform":[{"filter":"datum.panel==='KIRP'"}],"mark":{"type":"text","fontSize":12.5},
   "encoding":{"x":{"field":"time","type":"quantitative","scale":{"domain":[-11.6,208],"nice":false,"zero":false},"axis":{"values":[0,50,100,150,200],"title":"Time(Months)","offset":-26.5}},
    "y":{"field":"group","type":"nominal","scale":{"type":"point","domain":["Low","High"],"padding":0.57,"range":[0,58]},"axis":{"title":null,"labels":false}},
    "text":{"field":"n","type":"quantitative"}}},
  {"width":209,"height":170,"title":"LIHC","layer":[
   {"data":{"name":"km"},"transform":[{"filter":"datum.panel==='LIHC'"}],"mark":{"type":"line","interpolate":"step-after","strokeWidth":1.7},
    "encoding":{"x":{"field":"time","type":"quantitative","scale":{"domain":[-6.4,127.7],"nice":false,"zero":false},"axis":{"values":[0,30,60,90,120],"title":"Time(Months)"}},
     "y":{"field":"surv","type":"quantitative","scale":{"domain":[-0.05,1.05],"nice":false,"zero":false},"axis":{"values":[0,0.25,0.5,0.75,1],"format":".2f","title":"Survival probability"}},
     "color":{"field":"group","type":"nominal"}}},
   {"data":{"name":"km"},"transform":[{"filter":"datum.panel==='LIHC' && datum.cens===1"}],"mark":{"type":"point","shape":"M-1,0H1M0,-1V1","filled":false,"size":42,"strokeWidth":1.1,"opacity":1},
    "encoding":{"x":{"field":"time","type":"quantitative"},"y":{"field":"surv","type":"quantitative"},"color":{"field":"group","type":"nominal"}}},
   {"data":{"values":[{}]},"mark":{"type":"text","text":"p","fontStyle":"italic","fontSize":16,"align":"left","baseline":"alphabetic"},"encoding":{"x":{"datum":3.2,"type":"quantitative"},"y":{"datum":-0.016,"type":"quantitative"}}},
   {"data":{"values":[{}]},"mark":{"type":"text","text":"= 0.0013","fontSize":16,"align":"left","baseline":"alphabetic","dx":10},"encoding":{"x":{"datum":3.2,"type":"quantitative"},"y":{"datum":-0.016,"type":"quantitative"}}}
  ]},
  {"width":209,"height":170,"title":"LUAD","layer":[
   {"data":{"name":"km"},"transform":[{"filter":"datum.panel==='LUAD'"}],"mark":{"type":"line","interpolate":"step-after","strokeWidth":1.7},
    "encoding":{"x":{"field":"time","type":"quantitative","scale":{"domain":[-12.4,265.6],"nice":false,"zero":false},"axis":{"values":[0,50,100,150,200,250],"title":"Time(Months)"}},
     "y":{"field":"surv","type":"quantitative","scale":{"domain":[-0.05,1.05],"nice":false,"zero":false},"axis":{"values":[0,0.25,0.5,0.75,1],"labels":false,"title":null}},
     "color":{"field":"group","type":"nominal"}}},
   {"data":{"name":"km"},"transform":[{"filter":"datum.panel==='LUAD' && datum.cens===1"}],"mark":{"type":"point","shape":"M-1,0H1M0,-1V1","filled":false,"size":42,"strokeWidth":1.1,"opacity":1},
    "encoding":{"x":{"field":"time","type":"quantitative"},"y":{"field":"surv","type":"quantitative"},"color":{"field":"group","type":"nominal"}}},
   {"data":{"values":[{}]},"mark":{"type":"text","text":"p","fontStyle":"italic","fontSize":16,"align":"left","baseline":"alphabetic"},"encoding":{"x":{"datum":7.6,"type":"quantitative"},"y":{"datum":-0.026,"type":"quantitative"}}},
   {"data":{"values":[{}]},"mark":{"type":"text","text":"= 0.018","fontSize":16,"align":"left","baseline":"alphabetic","dx":11},"encoding":{"x":{"datum":7.6,"type":"quantitative"},"y":{"datum":-0.026,"type":"quantitative"}}}
  ]},
  {"width":209,"height":170,"data":{"values":[]},"mark":"point"},
  {"width":209,"height":77.5,"data":{"name":"risk"},"transform":[{"filter":"datum.panel==='LIHC'"}],"mark":{"type":"text","fontSize":12.5},
   "encoding":{"x":{"field":"time","type":"quantitative","scale":{"domain":[-6.4,127.7],"nice":false,"zero":false},"axis":{"values":[0,30,60,90,120],"title":"Time(Months)"}},
    "y":{"field":"group","type":"nominal","scale":{"type":"point","domain":["Low","High"],"padding":0.57,"range":[19.2,77.5]},"axis":{"title":null,"labelFontSize":14,"labelColor":{"condition":{"test":"datum.value === 'Low'","value":"#3D4DAB"},"value":"#DE5331"}}},
    "text":{"field":"n","type":"quantitative"}}},
  {"width":209,"height":77.5,"data":{"name":"risk"},"transform":[{"filter":"datum.panel==='LUAD'"}],"mark":{"type":"text","fontSize":12.5},
   "encoding":{"x":{"field":"time","type":"quantitative","scale":{"domain":[-12.4,265.6],"nice":false,"zero":false},"axis":{"values":[0,50,100,150,200,250],"title":"Time(Months)"}},
    "y":{"field":"group","type":"nominal","scale":{"type":"point","domain":["Low","High"],"padding":0.57,"range":[19.2,77.5]},"axis":{"title":null,"labels":false}},
    "text":{"field":"n","type":"quantitative"}}}
]
}
